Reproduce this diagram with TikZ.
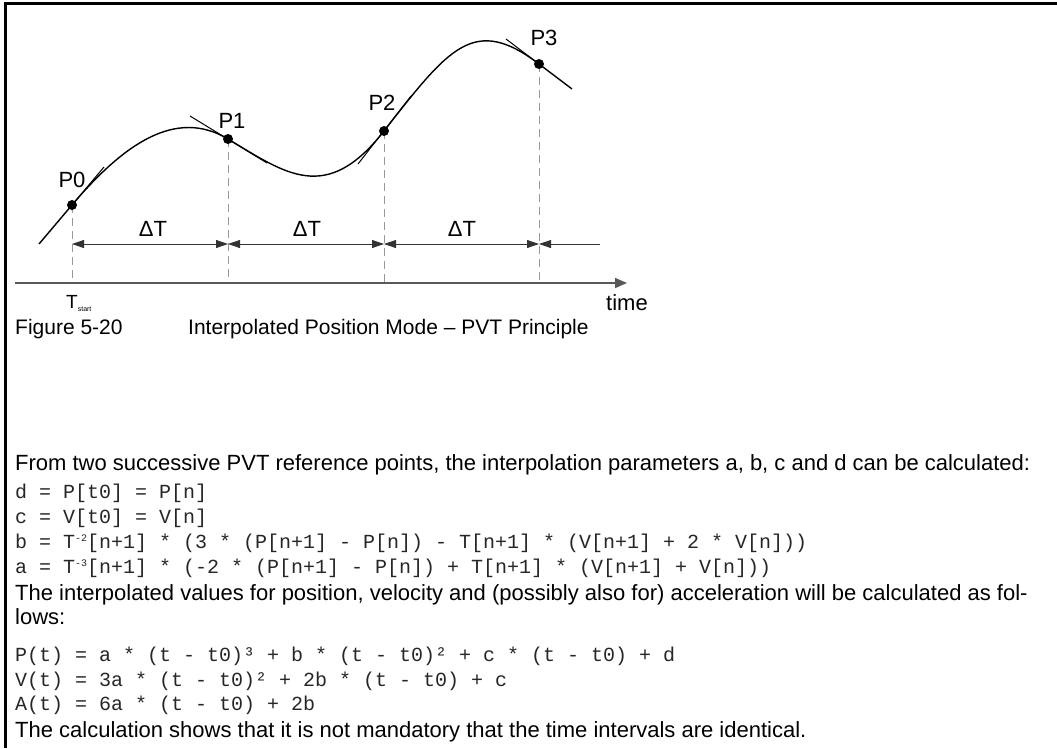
\documentclass[tikz,border=0pt]{standalone}
\usepackage{fontspec}
\setmainfont{Liberation Sans}
\setmonofont{Liberation Mono}
\usetikzlibrary{arrows.meta}
\newcommand\supx[1]{\raisebox{7pt}{\fontsize{10}{10}\selectfont #1}}
\begin{document}
\begin{tikzpicture}[x=1pt,y=-1pt,
  curve/.style={line width=1.4pt, black},
  tangent/.style={line width=1pt, black},
  guide/.style={gray!80, line width=1pt, dash pattern=on 8pt off 5pt},
  axisline/.style={gray!70!black, line width=1.6pt, -{Triangle[length=12pt,width=10pt]}},
  dim/.style={line width=0.8pt, black!80},
  dot/.style={circle, fill=black, inner sep=0, minimum size=10pt},
  plabel/.style={font=\fontsize{22}{24}\selectfont, inner sep=0},
  body/.style={font=\fontsize{22}{24}\selectfont, anchor=base west, inner sep=0},
  capt/.style={font=\fontsize{21}{24}\selectfont, anchor=base west, inner sep=0},
  code/.style={font=\ttfamily\fontsize{20}{22}\selectfont, anchor=base west, inner sep=0, text=black!85},
  frame/.style={line width=3pt, black}]
\useasboundingbox (0,0) rectangle (1057,748);
\draw[frame] (5,748) -- (5,3) -- (1057,3);

% points
\coordinate (S) at (39,244);
\coordinate (P0) at (72,205);
\coordinate (P1) at (228,139);
\coordinate (P2) at (384,131);
\coordinate (P3) at (539,64);
\coordinate (E) at (572,89);
\coordinate (A0) at (15,283);
\coordinate (A1) at (627,283);
\coordinate (m0) at (72,244);
\coordinate (m1) at (228,244);
\coordinate (m2) at (384,244);
\coordinate (m3) at (539,244);
\coordinate (mE) at (600,244);

% guides
\draw[guide] (P0) -- (P0 |- A0);
\draw[guide] (P1) -- (P1 |- A0);
\draw[guide] (P2) -- (P2 |- A0);
\draw[guide] (P3) -- (P3 |- A0);

% axis
\draw[axisline] (A0) -- (A1);

% curve
\draw[curve] (S) -- (P0) .. controls (124,143.6) and (176,107.8) .. (P1)
  .. controls (285.7,173.6) and (326.3,204.9) .. (P2)
  .. controls (449.1,47.7) and (473.9,14.5) .. (P3) -- (E);

% tangents
\draw[tangent] (P0) -- ++(32,-38);
\draw[tangent] (P1) ++(-38,-23) -- ++(77,47);
\draw[tangent] (P2) ++(-26,33) -- ++(53,-68);
\draw[tangent] (P3) ++(-33,-25) -- ++(33,25);

% dots
\node[dot] (d0) at (P0) {};
\node[dot] (d1) at (P1) {};
\node[dot] (d2) at (P2) {};
\node[dot] (d3) at (P3) {};

% dimension line
\draw[dim, {Triangle[length=12pt,width=8pt]}-{Triangle[length=12pt,width=8pt]}] (m0) -- (m1);
\draw[dim, {Triangle[length=12pt,width=8pt]}-{Triangle[length=12pt,width=8pt]}] (m1) -- (m2);
\draw[dim, {Triangle[length=12pt,width=8pt]}-{Triangle[length=12pt,width=8pt]}] (m2) -- (m3);
\draw[dim, {Triangle[length=12pt,width=8pt]}-] (m3) -- (mE);

% labels
\node[plabel] (l0) at (72,180) {P0};
\node[plabel] (l1) at (232,121) {P1};
\node[plabel] (l2) at (382,103) {P2};
\node[plabel] (l3) at (544,38) {P3};
\node[plabel] (dt1) at (153,229) {ΔT};
\node[plabel] (dt2) at (307,229) {ΔT};
\node[plabel] (dt3) at (462,229) {ΔT};
\node[inner sep=0, anchor=base west, font=\fontsize{19}{20}\selectfont] (ts) at (66,308) {T\raisebox{-3pt}{\fontsize{7}{7}\selectfont start}};
\node[plabel, anchor=base] (tm) at (627,310) {time};

% caption
\node[capt] (fig) at (15,334) {Figure 5-20};
\node[capt] (cap) at (188,334) {Interpolated Position Mode -- PVT Principle};

% text
\node[body] (t1) at (15,470) {From two successive PVT reference points, the interpolation parameters a, b, c and d can be calculated:};
\node[code] (c1) at (15,498) {d = P[t0] = P[n]};
\node[code] (c2) at (15,523) {c = V[t0] = V[n]};
\node[code] (c3) at (15,548) {b = T\supx{-2}[n+1] * (3 * (P[n+1] - P[n]) - T[n+1] * (V[n+1] + 2 * V[n]))};
\node[code] (c4) at (15,573) {a = T\supx{-3}[n+1] * (-2 * (P[n+1] - P[n]) + T[n+1] * (V[n+1] + V[n]))};
\node[body] (t2) at (15,600) {The interpolated values for position, velocity and (possibly also for) acceleration will be calculated as fol-};
\node[body] (t3) at (15,624) {lows:};
\node[code] (c5) at (15,661) {P(t) = a * (t - t0)³ + b * (t - t0)² + c * (t - t0) + d};
\node[code] (c6) at (15,686) {V(t) = 3a * (t - t0)² + 2b * (t - t0) + c};
\node[code] (c7) at (15,710) {A(t) = 6a * (t - t0) + 2b};
\node[body] (t4) at (15,737) {The calculation shows that it is not mandatory that the time intervals are identical.};
\end{tikzpicture}
\end{document}
